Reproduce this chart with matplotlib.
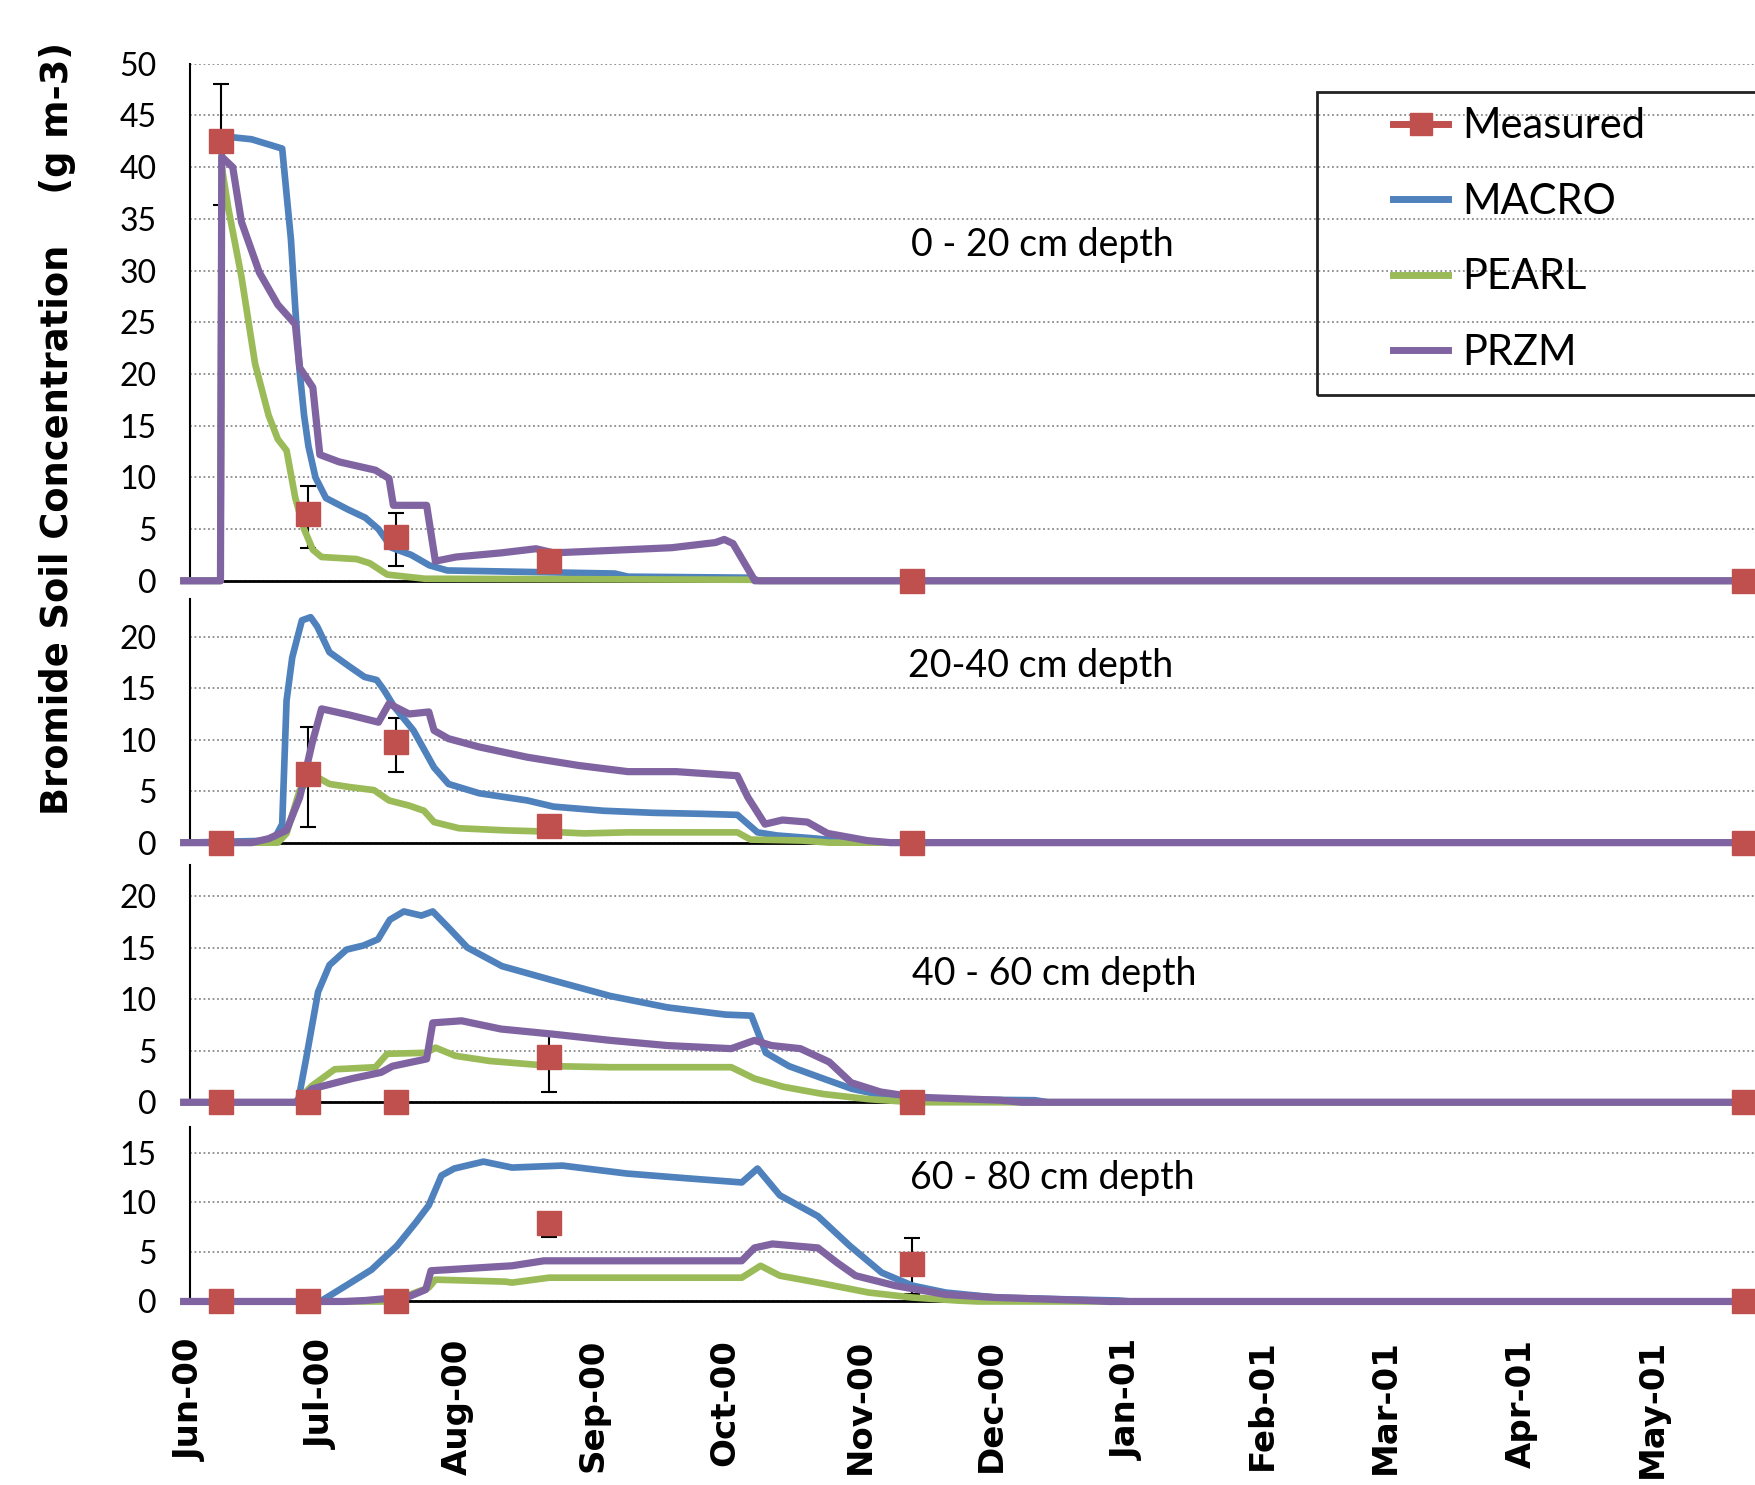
import numpy as np
import matplotlib
matplotlib.use("Agg")
import matplotlib.pyplot as plt
import matplotlib.dates as mdates
from matplotlib.lines import Line2D
from matplotlib.patches import Rectangle

plt.rcParams['font.family'] = ['Lato', 'DejaVu Sans']

# ---------------- data (days since 1 Jun 2000) ----------------
START = mdates.date2num(np.datetime64('2000-06-01'))

meas_days = [7, 27, 47, 82, 165, 355]

# panel 1: 0-20 cm
p1_meas = [42.5, 6.5, 4.2, 1.9, 0, 0]
p1_lo = [6.2, 3.3, 2.8, 0, 0, 0]
p1_hi = [5.5, 2.7, 2.4, 0, 0, 0]
p1_macro_d = [-1.5, 6.9, 7.2, 14, 21, 23, 24, 25, 26, 27, 28.6, 31, 36, 40, 43, 46, 50.5, 54.6, 58.7, 97, 100, 128, 130, 358]
p1_macro_v = [0, 0, 43, 42.7, 41.8, 33, 26.3, 20.2, 16, 13, 10, 8, 6.9, 6.1, 5, 3.2, 2.5, 1.5, 1.0, 0.7, 0.4, 0.3, 0, 0]
p1_pearl_d = [-1.5, 6.9, 7.2, 8.7, 11.7, 14.8, 17.9, 20, 22, 24, 26, 28, 30, 38, 41, 45, 53.6, 128, 130, 358]
p1_pearl_v = [0, 0, 40, 36, 29.4, 21, 16, 13.7, 12.6, 8, 5, 3, 2.3, 2.1, 1.7, 0.6, 0.2, 0.1, 0, 0]
p1_przm_d = [-1.5, 6.9, 7.2, 9.7, 11.7, 15.8, 20, 24, 25, 28, 29.6, 34, 42.3, 45.4, 46.4, 54, 56, 60.7, 71, 79, 83, 94, 110, 120, 122, 124, 129, 358]
p1_przm_v = [0, 0, 41, 40, 34.7, 29.8, 26.7, 24.8, 20.6, 18.7, 12.2, 11.5, 10.7, 9.9, 7.3, 7.3, 1.9, 2.3, 2.7, 3.1, 2.7, 2.9, 3.2, 3.7, 4.0, 3.6, 0, 0]

# panel 2: 20-40 cm
p2_meas = [0, 6.7, 9.8, 1.6, 0, 0]
p2_lo = [0, 5.2, 2.9, 0, 0, 0]
p2_hi = [0, 4.5, 2.3, 0, 0, 0]
p2_macro_d = [-1.5, 19, 21, 22, 23.3, 25.5, 27.5, 29, 31.8, 36.4, 39.8, 42.6, 44.3, 46.6, 51, 55.7, 59, 66, 77, 83, 94.4, 105.7, 117, 125, 129.6, 134, 143, 150, 155, 358]
p2_macro_v = [0, 0.2, 1.8, 13.8, 18, 21.6, 21.9, 21, 18.5, 17.1, 16.1, 15.8, 14.8, 13.2, 10.9, 7.3, 5.7, 4.8, 4.1, 3.5, 3.1, 2.9, 2.8, 2.7, 1.0, 0.7, 0.4, 0.1, 0, 0]
p2_pearl_d = [-1.5, 20, 22, 25, 28.4, 31.8, 36.4, 42, 45.4, 50, 53.4, 55.7, 61.4, 71.6, 79.6, 90, 100, 125, 128, 140, 146, 358]
p2_pearl_v = [0, 0, 0.9, 5.1, 6.5, 5.7, 5.4, 5.1, 4.1, 3.6, 3.1, 2.0, 1.4, 1.2, 1.1, 0.9, 1.0, 1.0, 0.3, 0.2, 0, 0]
p2_przm_d = [-1.5, 14, 18, 22, 25, 27.8, 30, 36.4, 43, 45.4, 50, 54.5, 55.7, 59, 66, 77, 88.7, 100, 111, 125, 127.4, 131.3, 135.3, 141, 145.6, 154.7, 160, 358]
p2_przm_v = [0, 0, 0.4, 1.2, 4.4, 9.6, 13.0, 12.4, 11.7, 13.5, 12.5, 12.7, 10.9, 10.1, 9.3, 8.3, 7.5, 6.9, 6.9, 6.5, 4.4, 1.8, 2.2, 2.0, 0.9, 0.2, 0, 0]

# panel 3: 40-60 cm
p3_meas = [0, 0, 0, 4.4, 0, 0]
p3_lo = [0, 0, 0, 3.4, 0, 0]
p3_hi = [0, 0, 0, 2.1, 0, 0]
p3_macro_d = [-1.5, 24.6, 26.5, 29.2, 31.8, 35.7, 39.6, 42.9, 45.6, 48.8, 52.8, 55.4, 59.3, 63.3, 71.2, 83, 96, 109, 122.3, 128.2, 131.5, 136.8, 144.6, 151.2, 159, 168, 193, 196, 358]
p3_macro_v = [0, 0, 4.3, 10.7, 13.3, 14.8, 15.2, 15.8, 17.7, 18.5, 18.1, 18.5, 16.8, 15.0, 13.2, 11.8, 10.3, 9.2, 8.5, 8.4, 4.8, 3.5, 2.3, 1.3, 0.6, 0.3, 0.2, 0, 0]
p3_pearl_d = [-1.5, 24, 27.8, 33, 42.3, 45, 54, 56, 60.6, 68.5, 83, 96, 123.6, 128.9, 135.5, 144.6, 155, 162, 165, 358]
p3_pearl_v = [0, 0, 1.6, 3.2, 3.4, 4.7, 4.8, 5.3, 4.5, 4.0, 3.5, 3.4, 3.4, 2.3, 1.5, 0.8, 0.3, 0.1, 0, 0]
p3_przm_d = [-1.5, 24, 27.8, 37, 43.6, 46.2, 54, 55.4, 62, 71, 83, 96, 109, 123.6, 128.9, 132.8, 139.4, 146, 151, 157.7, 165.6, 185, 190, 358]
p3_przm_v = [0, 0, 1.3, 2.3, 2.9, 3.5, 4.2, 7.7, 7.9, 7.1, 6.6, 6.0, 5.5, 5.2, 6.0, 5.5, 5.2, 3.9, 1.9, 1.0, 0.5, 0.2, 0, 0]

# panel 4: 60-80 cm
p4_meas = [0, 0, 0, 7.9, 3.75, 0]
p4_lo = [0, 0, 0, 1.4, 3.0, 0]
p4_hi = [0, 0, 0, 0, 2.65, 0]
p4_macro_d = [-1.5, 29.7, 35.6, 41.4, 47.2, 51.6, 54.5, 57.4, 60.3, 67, 73.5, 85, 99.7, 114, 126, 129.6, 134.7, 143.4, 150.7, 158, 165, 172.6, 184, 201.7, 212, 215, 358]
p4_macro_v = [0, 0, 1.6, 3.2, 5.6, 8.0, 9.7, 12.7, 13.4, 14.1, 13.5, 13.7, 12.9, 12.4, 12.0, 13.4, 10.7, 8.6, 5.6, 2.9, 1.6, 0.9, 0.4, 0.2, 0.1, 0, 0]
p4_pearl_d = [-1.5, 46, 54.5, 56, 72, 73.5, 82, 126, 130.3, 134.7, 143.4, 155, 165, 175, 180, 358]
p4_pearl_v = [0, 0, 1.4, 2.2, 2.0, 1.9, 2.4, 2.4, 3.6, 2.6, 1.9, 0.9, 0.4, 0.1, 0, 0]
p4_przm_d = [-1.5, 35, 40, 50, 53.8, 55, 73.5, 80.8, 126, 128.9, 133, 143.4, 147.8, 152, 161, 172.6, 184, 205, 210, 358]
p4_przm_v = [0, 0, 0.1, 0.5, 1.2, 3.1, 3.6, 4.1, 4.1, 5.4, 5.8, 5.4, 3.9, 2.6, 1.6, 0.7, 0.4, 0.1, 0, 0]

depth_labels = ['0 - 20 cm depth', '20-40 cm depth', '40 - 60 cm depth', '60 - 80 cm depth']
series_names = ['Measured', 'MACRO', 'PEARL', 'PRZM']
ymax_ticks = [50, 20, 20, 15]

# ---------------- style ----------------
C_MEAS = '#C0504D'
C_MACRO = '#4F81BD'
C_PEARL = '#9BBB59'
C_PRZM = '#8064A2'

panels = [
    dict(meas=p1_meas, lo=p1_lo, hi=p1_hi, macro=(p1_macro_d, p1_macro_v), pearl=(p1_pearl_d, p1_pearl_v), przm=(p1_przm_d, p1_przm_v)),
    dict(meas=p2_meas, lo=p2_lo, hi=p2_hi, macro=(p2_macro_d, p2_macro_v), pearl=(p2_pearl_d, p2_pearl_v), przm=(p2_przm_d, p2_przm_v)),
    dict(meas=p3_meas, lo=p3_lo, hi=p3_hi, macro=(p3_macro_d, p3_macro_v), pearl=(p3_pearl_d, p3_pearl_v), przm=(p3_przm_d, p3_przm_v)),
    dict(meas=p4_meas, lo=p4_lo, hi=p4_hi, macro=(p4_macro_d, p4_macro_v), pearl=(p4_pearl_d, p4_pearl_v), przm=(p4_przm_d, p4_przm_v)),
]

# axes layout (figure fractions): bottom, height, ylim top
W, H = 1568.0, 1327.0
left = 170 / W
rects = [
    (1 - 519 / H, (519 - 57) / H, 50.0),
    (1 - 753 / H, (753 - 535) / H, 23.7),
    (1 - 985 / H, (985 - 773) / H, 23.0),
    (1 - 1163 / H, (1163 - 1007) / H, 17.6),
]
label_pos = [(931 / W, 1 - 219 / H), (930 / W, 1 - 595 / H), (942 / W, 1 - 870 / H), (940 / W, 1 - 1053 / H)]

fig = plt.figure(figsize=(17.55, 14.85), dpi=100)
xr = 357.5

for i, (pd_, (b, h, ytop)) in enumerate(zip(panels, rects)):
    ax = fig.add_axes([left, b, 1 - left, h])
    ax.set_xlim(START, START + xr)
    ax.set_ylim(0, ytop)
    for spn in ['top', 'right']:
        ax.spines[spn].set_visible(False)
    ax.spines['left'].set_linewidth(1.5)
    ax.spines['bottom'].set_linewidth(2.0)
    ax.spines['bottom'].set_zorder(1)
    ax.set_yticks(np.arange(0, ymax_ticks[i] + 1, 5))
    ax.yaxis.grid(True, linestyle=(0, (1, 1.5)), color='#8a8a8a', linewidth=1.3)
    ax.set_axisbelow(True)
    ax.tick_params(axis='y', length=0, pad=24, labelsize=23)
    ax.xaxis.set_major_locator(mdates.MonthLocator())
    ax.xaxis.set_major_formatter(mdates.DateFormatter('%b-%y'))
    ax.tick_params(axis='x', length=0, pad=27)
    if i < 3:
        ax.tick_params(axis='x', labelbottom=False)
    else:
        for lab in ax.get_xticklabels():
            lab.set_rotation(90)
            lab.set_fontfamily('DejaVu Sans')
            lab.set_fontweight('bold')
            lab.set_fontsize(24.5)
            lab.set_va('top')
            lab.set_ha('center')

    mx = START + np.array(meas_days, dtype=float)
    ax.errorbar(mx, pd_['meas'], yerr=[pd_['lo'], pd_['hi']], fmt='none', ecolor='black',
                elinewidth=1.5, capsize=6, capthick=1.5, zorder=2.5, clip_on=False)

    for key, col, lw in [('macro', C_MACRO, 4.8), ('pearl', C_PEARL, 4.8), ('przm', C_PRZM, 5.2)]:
        d, v = pd_[key]
        ax.plot(START + np.array(d), v, color=col, lw=lw, solid_joinstyle='round', clip_on=False, zorder=3)

    ax.plot(mx, pd_['meas'], linestyle='none', marker='s', markersize=17, color=C_MEAS,
            markeredgecolor=C_MEAS, zorder=5, clip_on=False)

    fig.text(label_pos[i][0], label_pos[i][1], depth_labels[i], ha='center', va='center', fontsize=27)

fig.text(51 / W, 1 - 383 / H, 'Bromide Soil Concentration    (g m-3)', rotation=90, ha='center', va='center',
         fontsize=26.5, fontweight='bold', family=['DejaVu Sans'])

handles = [
    Line2D([], [], color=C_MEAS, lw=5, marker='s', markersize=16),
    Line2D([], [], color=C_MACRO, lw=5),
    Line2D([], [], color=C_PEARL, lw=5),
    Line2D([], [], color=C_PRZM, lw=5),
]
fig.legend(handles, series_names, loc='center left', bbox_to_anchor=(1245 / W, 1 - 214 / H),
           frameon=False, fontsize=30, handlelength=1.3, handletextpad=0.35, labelspacing=0.9,
           borderpad=0, borderaxespad=0)
fig.patches.append(Rectangle((1177 / W, 1 - 353 / H), 0.4, (353 - 82) / H, transform=fig.transFigure,
                             fill=False, edgecolor='#222222', linewidth=2, zorder=10))

fig.savefig('out.png', dpi=100, facecolor='white')
